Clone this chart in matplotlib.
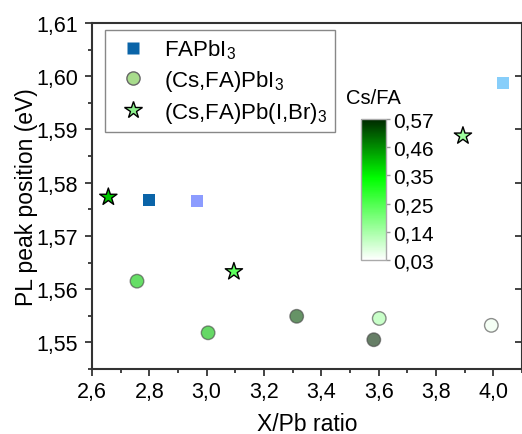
"""PL peak position vs X/Pb ratio for FAPbI3 and Cs/FA mixed perovskites."""

import matplotlib

matplotlib.use("Agg")
import matplotlib.pyplot as plt  # noqa: E402
import numpy as np  # noqa: E402
from matplotlib.colors import LinearSegmentedColormap, Normalize  # noqa: E402
from matplotlib.cm import ScalarMappable  # noqa: E402
from matplotlib.lines import Line2D  # noqa: E402
from matplotlib.ticker import FuncFormatter, MultipleLocator  # noqa: E402

plt.rcParams["font.family"] = ["Liberation Sans", "DejaVu Sans"]
plt.rcParams["mathtext.fontset"] = "custom"
plt.rcParams["mathtext.rm"] = "Liberation Sans"
plt.rcParams["mathtext.it"] = "Liberation Sans"

# FAPbI3 reference films
fa_x = [2.80, 2.965, 4.035]
fa_y = [1.5767, 1.5765, 1.5987]
fa_colors = ["#0a64a8", "#8c9cff", "#87cefa"]

# (Cs,FA)PbI3 films, coloured by Cs/FA
cs_x = [2.757, 3.005, 3.314, 3.583, 3.602, 3.993]
cs_y = [1.5615, 1.5518, 1.5549, 1.5505, 1.5545, 1.5532]
cs_ratio = [0.40, 0.41, 0.53, 0.57, 0.14, 0.05]

# (Cs,FA)Pb(I,Br)3 films, coloured by Cs/FA
br_x = [2.657, 3.095, 3.894]
br_y = [1.5773, 1.5633, 1.5888]
br_ratio = [0.40, 0.23, 0.15]

CBAR_MIN, CBAR_MAX = 0.03, 0.57

cmap = LinearSegmentedColormap.from_list(
    "csfa", [(0.0, "white"), (0.58, "#00ff00"), (1.0, "#002800")]
)
norm = Normalize(CBAR_MIN, CBAR_MAX)


def comma(fmt):
    return FuncFormatter(lambda v, _: fmt.format(v).replace(".", ","))


fig = plt.figure(figsize=(5.22, 4.35), dpi=100)
ax = fig.add_axes([92 / 522, 65 / 435, 430 / 522, 346 / 435])

ax.scatter(fa_x, fa_y, marker="s", s=74, c=fa_colors, linewidths=0, zorder=3)
ax.scatter(cs_x, cs_y, marker="o", s=95, c=cs_ratio, cmap=cmap, norm=norm,
           alpha=0.6, edgecolors="#444444", linewidths=1.0, zorder=3)
ax.scatter(br_x, br_y, marker="*", s=170, c=br_ratio, cmap=cmap, norm=norm,
           edgecolors="black", linewidths=1.0, zorder=4)

ax.set_xlim(2.6, 4.1)
ax.set_ylim(1.545, 1.61)
ax.xaxis.set_major_locator(MultipleLocator(0.2))
ax.xaxis.set_minor_locator(MultipleLocator(0.1))
ax.yaxis.set_major_locator(MultipleLocator(0.01))
ax.yaxis.set_minor_locator(MultipleLocator(0.005))
ax.xaxis.set_major_formatter(comma("{:.1f}"))
ax.yaxis.set_major_formatter(comma("{:.2f}"))
ax.tick_params(which="major", direction="out", length=5, width=1.2,
               labelsize=15.5, pad=4, color="#222222")
ax.tick_params(which="minor", direction="out", length=3, width=1.2, color="#222222")
ax.tick_params(axis="y", which="major", pad=5)
for side in ["left", "bottom", "top", "right"]:
    ax.spines[side].set_linewidth(1.5)
    ax.spines[side].set_color("#333333")
# right-hand major ticks point into the frame
ax.yaxis.set_tick_params(which="major", right=True, labelright=False)
for tick in ax.yaxis.get_major_ticks():
    tick.tick2line.set_marker(matplotlib.markers.TICKLEFT)
ax.set_xlabel("X/Pb ratio", fontsize=16.5, labelpad=6.5)
ax.set_ylabel("PL peak position (eV)", fontsize=16.5, labelpad=-1.5)

handles = [
    Line2D([], [], marker="s", ls="", ms=8.5, mfc="#0a64a8", mec="none"),
    Line2D([], [], marker="o", ls="", ms=9.5, mfc="#a8dc8c", mec="#666666"),
    Line2D([], [], marker="*", ls="", ms=13, mfc="#8cf08c", mec="black"),
]
labels = ["FAPbI$_3$", "(Cs,FA)PbI$_3$", "(Cs,FA)Pb(I,Br)$_3$"]
leg = ax.legend(handles, labels, loc="upper left", bbox_to_anchor=(0.030, 0.980),
                borderaxespad=0, fontsize=16, fancybox=False, framealpha=1,
                edgecolor="#888888", handletextpad=0.5, labelspacing=0.3,
                borderpad=0.35, handlelength=1.8)
leg.get_frame().set_linewidth(1.0)

cax = fig.add_axes([361 / 522, 174 / 435, 25 / 522, 141 / 435])
cb = fig.colorbar(ScalarMappable(norm=norm, cmap=cmap), cax=cax)
cb.set_ticks(np.linspace(CBAR_MIN, CBAR_MAX, 6))
cb.ax.yaxis.set_major_formatter(comma("{:.2f}"))
cb.ax.tick_params(length=3, width=1, color="#999999", labelsize=15, pad=2)
cb.outline.set_edgecolor("#aaaaaa")
cb.outline.set_linewidth(1.0)
fig.text(373 / 522, 1 - 99 / 435, "Cs/FA", fontsize=14.5, ha="center", va="center")

fig.savefig("out.png", dpi=100)
